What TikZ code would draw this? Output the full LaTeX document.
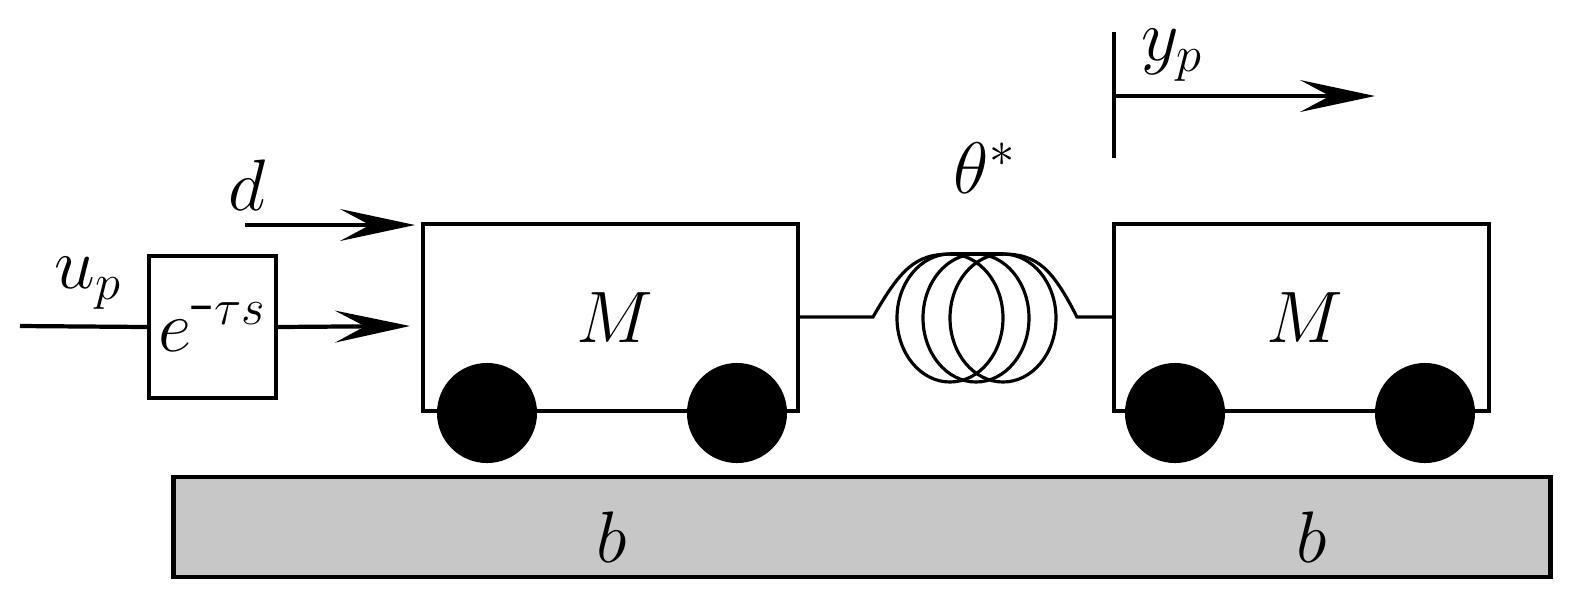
\documentclass[tikz,border=0pt]{standalone}
\usetikzlibrary{arrows.meta}
\begin{document}
\begin{tikzpicture}[x=0.01cm,y=-0.01cm,line width=1.2pt,
  arr/.style={-{Stealth[length=0.75cm,width=0.32cm,inset=0.3cm]}},
  wheel/.style={circle,fill=black,minimum size=1.0cm,inner sep=0},
  cart/.style={draw,minimum width=3.75cm,minimum height=1.87cm,inner sep=0},
  lbl/.style={font=\fontsize{22}{26}\selectfont}]
\useasboundingbox (0,0) rectangle (1590,611);
\node[draw,fill=black!22,minimum width=13.76cm,minimum height=1.0cm,inner sep=0] (g) at (862,527) {};
\node[lbl] (b1) at (612,537) {$b$};
\node[lbl] (b2) at (1312,537) {$b$};
\node[cart] (c1) at (610.5,317.5) {};
\node[cart] (c2) at (1301.5,317.5) {};
\node[lbl,font=\fontsize{20}{24}\selectfont] (m1) at (615,318) {$M$};
\node[lbl,font=\fontsize{20}{24}\selectfont] (m2) at (1305,318) {$M$};
\foreach \n/\x in {w1/487,w2/737,w3/1175,w4/1425}
  \node[wheel] (\n) at (\x,413) {};
\node[draw,minimum width=1.27cm,minimum height=1.42cm,inner sep=0,lbl] (dl) at (212.5,327) {$e^{\mbox{-}\tau s}$};
\coordinate (in) at (20,326);
\draw (in) -- (dl.west);
\node[lbl] (up) at (88,283) {$u_p$};
\draw[arr] (dl.east) -- (410,326);
\coordinate (ds) at (245,225);
\draw[arr] (ds) -- (415,225);
\node[lbl] (d) at (247,185) {$d$};
% spring
\begin{scope}[line width=0.9pt]
\draw (c1.east |- 0,317) -- (873,317) .. controls (900,270) and (915,254) .. (950,254);
\draw (1003,254) .. controls (1038,254) and (1053,270) .. (1077,317) -- (c2.west |- 0,317);
\draw (950,254) -- (1003,254);
\foreach \cx in {950,976,1003}
  \draw (\cx,318) ellipse [x radius=53, y radius=64];
\end{scope}
\node[lbl] (th) at (985,168) {$\theta^{*}$};
% y_p
\coordinate (yt) at (1114,32);
\coordinate (yb) at (1114,158);
\draw (yt) -- (yb);
\draw[arr] (1114,96) -- (1375,96);
\node[lbl] (yp) at (1172,55) {$y_p$};
\end{tikzpicture}
\end{document}
